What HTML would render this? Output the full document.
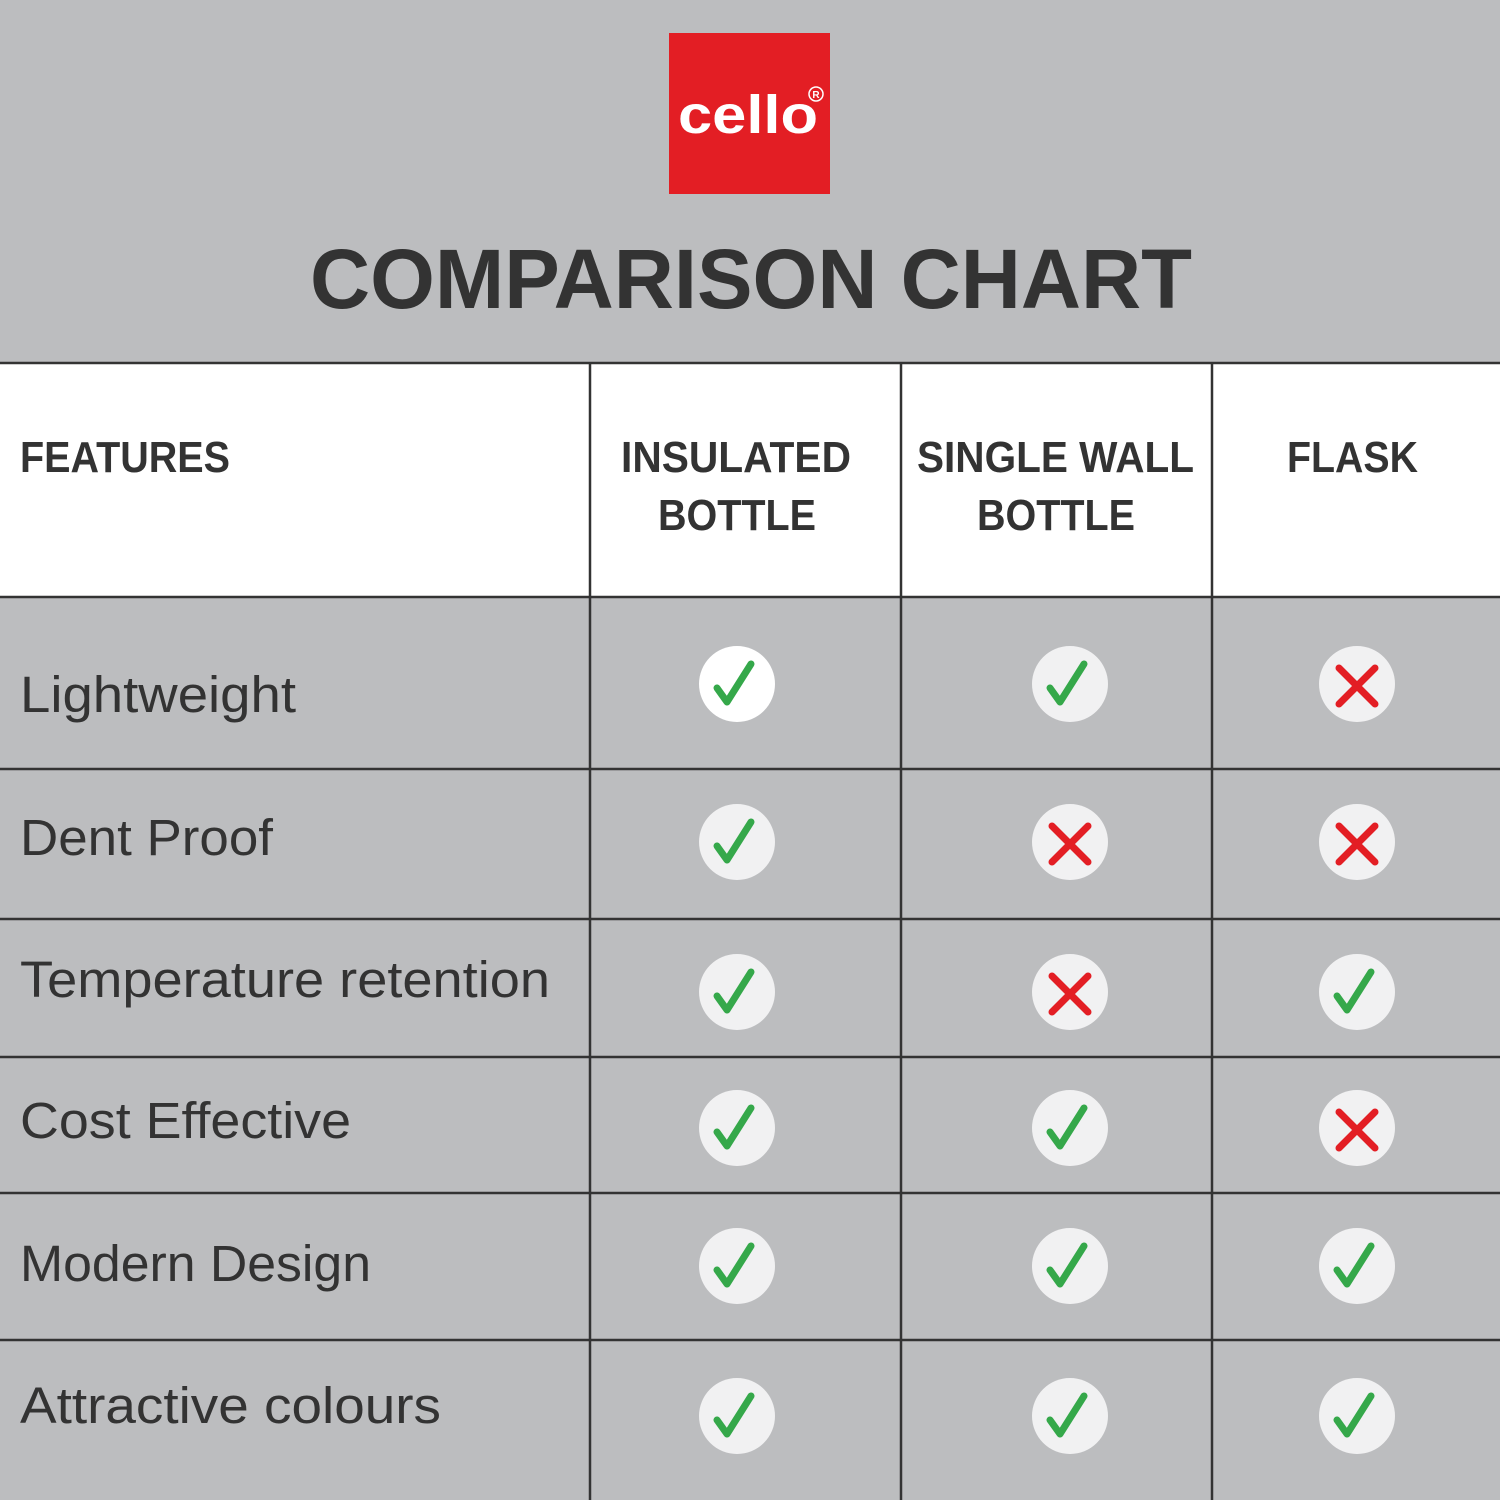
<!DOCTYPE html>
<html><head><meta charset="utf-8"><style>
html,body{margin:0;padding:0;background:#bcbdbf;}
svg{display:block;}
text{font-family:"Liberation Sans",sans-serif;fill:#333;}
</style></head><body>
<svg width="1500" height="1500" viewBox="0 0 1500 1500" xmlns="http://www.w3.org/2000/svg">
<rect width="1500" height="1500" fill="#bcbdbf"/>
<rect x="669" y="33" width="161" height="161" fill="#e31e24"/>
<text x="678" y="133" font-size="54" font-weight="bold" textLength="140" lengthAdjust="spacingAndGlyphs" style="fill:#fff">cello</text>
<circle cx="816" cy="94" r="7" fill="none" stroke="#fff" stroke-width="1.5"/>
<text x="816" y="98" font-size="10" font-weight="bold" text-anchor="middle" style="fill:#fff">R</text>
<text x="310" y="308" font-size="84" font-weight="bold" textLength="882" lengthAdjust="spacingAndGlyphs">COMPARISON CHART</text>
<rect x="0" y="363" width="1500" height="234" fill="#fff"/>
<g stroke="#333" stroke-width="2.5">
<line x1="0" y1="363" x2="1500" y2="363"/>
<line x1="0" y1="597" x2="1500" y2="597"/>
<line x1="0" y1="769" x2="1500" y2="769"/>
<line x1="0" y1="919" x2="1500" y2="919"/>
<line x1="0" y1="1057" x2="1500" y2="1057"/>
<line x1="0" y1="1193" x2="1500" y2="1193"/>
<line x1="0" y1="1340" x2="1500" y2="1340"/>
<line x1="590" y1="363" x2="590" y2="1500"/>
<line x1="901" y1="363" x2="901" y2="1500"/>
<line x1="1212" y1="363" x2="1212" y2="1500"/>
</g>
<g font-weight="bold" font-size="44">
<text x="20" y="472" textLength="210" lengthAdjust="spacingAndGlyphs">FEATURES</text>
<text x="621" y="472" textLength="230" lengthAdjust="spacingAndGlyphs">INSULATED</text>
<text x="658" y="530" textLength="158" lengthAdjust="spacingAndGlyphs">BOTTLE</text>
<text x="917" y="472" textLength="277" lengthAdjust="spacingAndGlyphs">SINGLE WALL</text>
<text x="977" y="530" textLength="158" lengthAdjust="spacingAndGlyphs">BOTTLE</text>
<text x="1287" y="472" textLength="131" lengthAdjust="spacingAndGlyphs">FLASK</text>
</g>
<g font-size="51">
<text x="20" y="712" textLength="276" lengthAdjust="spacingAndGlyphs">Lightweight</text>
<text x="20" y="855" textLength="253" lengthAdjust="spacingAndGlyphs">Dent Proof</text>
<text x="20" y="997" textLength="530" lengthAdjust="spacingAndGlyphs">Temperature retention</text>
<text x="20" y="1138" textLength="331" lengthAdjust="spacingAndGlyphs">Cost Effective</text>
<text x="20" y="1281" textLength="351" lengthAdjust="spacingAndGlyphs">Modern Design</text>
<text x="20" y="1423" textLength="421" lengthAdjust="spacingAndGlyphs">Attractive colours</text>
</g>
<defs>
<g id="ck"><path d="M-20,4 L-10,18 L14,-20" fill="none" stroke="#35a84a" stroke-width="7" stroke-linecap="round" stroke-linejoin="round"/></g>
<g id="x"><path d="M-18,-18 L18,18 M18,-18 L-18,18" fill="none" stroke="#e31e24" stroke-width="7" stroke-linecap="round"/></g>
</defs>
<g fill="#f1f1f2">
<circle cx="737" cy="684" r="38" fill="#fff"/><circle cx="1070" cy="684" r="38"/><circle cx="1357" cy="684" r="38"/>
<circle cx="737" cy="842" r="38"/><circle cx="1070" cy="842" r="38"/><circle cx="1357" cy="842" r="38"/>
<circle cx="737" cy="992" r="38"/><circle cx="1070" cy="992" r="38"/><circle cx="1357" cy="992" r="38"/>
<circle cx="737" cy="1128" r="38"/><circle cx="1070" cy="1128" r="38"/><circle cx="1357" cy="1128" r="38"/>
<circle cx="737" cy="1266" r="38"/><circle cx="1070" cy="1266" r="38"/><circle cx="1357" cy="1266" r="38"/>
<circle cx="737" cy="1416" r="38"/><circle cx="1070" cy="1416" r="38"/><circle cx="1357" cy="1416" r="38"/>
</g>
<use href="#ck" x="737" y="684"/><use href="#ck" x="1070" y="684"/><use href="#x" x="1357" y="686"/>
<use href="#ck" x="737" y="842"/><use href="#x" x="1070" y="844"/><use href="#x" x="1357" y="844"/>
<use href="#ck" x="737" y="992"/><use href="#x" x="1070" y="994"/><use href="#ck" x="1357" y="992"/>
<use href="#ck" x="737" y="1128"/><use href="#ck" x="1070" y="1128"/><use href="#x" x="1357" y="1130"/>
<use href="#ck" x="737" y="1266"/><use href="#ck" x="1070" y="1266"/><use href="#ck" x="1357" y="1266"/>
<use href="#ck" x="737" y="1416"/><use href="#ck" x="1070" y="1416"/><use href="#ck" x="1357" y="1416"/>
</svg>
</body></html>
